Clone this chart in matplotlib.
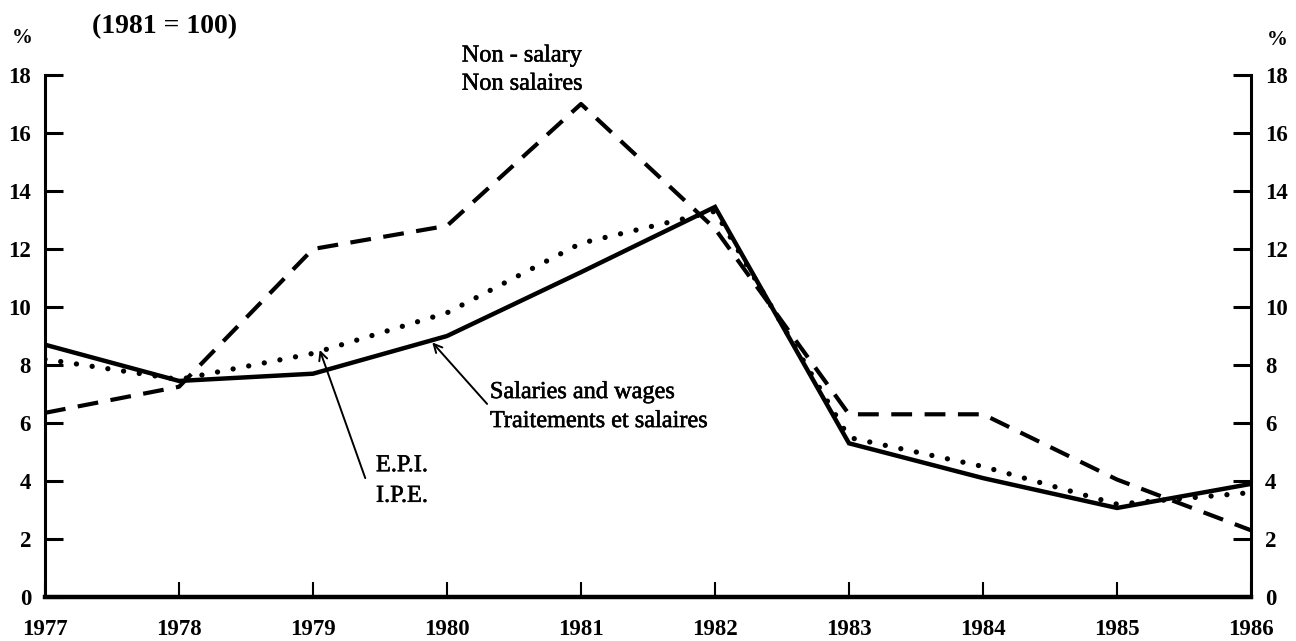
import matplotlib
matplotlib.use("Agg")
import matplotlib.pyplot as plt
import matplotlib.patheffects as pe

years = [1977, 1978, 1979, 1980, 1981, 1982, 1983, 1984, 1985, 1986]
salaries = [8.7, 7.45, 7.7, 9.0, 11.2, 13.45, 5.3, 4.1, 3.07, 3.9]
non_salary = [6.35, 7.25, 12.0, 12.8, 17.0, 12.7, 6.3, 6.3, 4.05, 2.3]
epi = [8.2, 7.5, 8.4, 9.8, 12.2, 13.3, 5.5, 4.5, 3.2, 3.6]
y_ticks = [0, 2, 4, 6, 8, 10, 12, 14, 16, 18]

plt.rcParams['font.family'] = ['Liberation Serif', 'DejaVu Serif']
heavy = [pe.withStroke(linewidth=0.4, foreground="black")]

fig = plt.figure(figsize=(12.96, 6.41), dpi=100)
ax = fig.add_axes([45 / 1296, 1 - 597 / 641, 1206 / 1296, 522 / 641])

ax.plot(years, salaries, color="black", lw=3.2, solid_joinstyle="miter")
ax.plot(years, non_salary, color="black", lw=3.0, linestyle=(0, (5, 3)))
ax.plot(years, epi, color="black", lw=3.8, linestyle=(0, (0.01, 3.0)),
        dash_capstyle="round")

ax.set_xlim(1977, 1986)
ax.set_ylim(0, 18)
ax.set_xticks(years)
ax.set_yticks(y_ticks)
ax.set_xticklabels([str(y) for y in years], fontsize=16.5, fontweight="bold")
ax.set_yticklabels([str(v) for v in y_ticks], fontsize=16.5, fontweight="bold")

ax.spines["top"].set_visible(False)
ax.spines["left"].set_linewidth(2.2)
ax.spines["right"].set_linewidth(2.2)
ax.spines["bottom"].set_linewidth(3.2)

ax.tick_params(axis="y", direction="in", length=13, width=2.2, pad=10,
               left=True, right=True, labelleft=True, labelright=True)
ax.tick_params(axis="x", direction="in", length=11, width=1.5, pad=16)

# header texts
fig.text(22 / 1296, 1 - 38 / 641, "%", fontsize=15, fontweight="bold",
         ha="center", va="center")
fig.text(1277 / 1296, 1 - 40 / 641, "%", fontsize=15, fontweight="bold",
         ha="center", va="center")
fig.text(92 / 1296, 1 - 27 / 641, "(1981 = 100)", fontsize=20,
         fontweight="bold", ha="left", va="center")

# series annotations
ax.text(1980.11, 18.17, "Non - salary\nNon salaires", fontsize=17.5,
        ha="left", va="center", linespacing=1.45, path_effects=heavy)
ax.annotate("Salaries and wages\nTraitements et salaires",
            xy=(1979.89, 8.78), xytext=(1980.32, 6.55), fontsize=17.5,
            ha="left", va="center", linespacing=1.5, path_effects=heavy,
            arrowprops=dict(arrowstyle="->", color="black", lw=1.4,
                            shrinkA=0, shrinkB=0, mutation_scale=15,
                            relpos=(0, 0.5)),
            annotation_clip=False)
ax.annotate("", xy=(1979.05, 8.52), xytext=(1979.39, 4.1),
            arrowprops=dict(arrowstyle="->", color="black", lw=1.4,
                            shrinkA=0, shrinkB=0, mutation_scale=15))
ax.text(1979.47, 4.0, "E.P.I.\nI.P.E.", fontsize=17.5, ha="left",
        va="center", linespacing=1.6, path_effects=heavy)

fig.savefig("out.png", dpi=100)
